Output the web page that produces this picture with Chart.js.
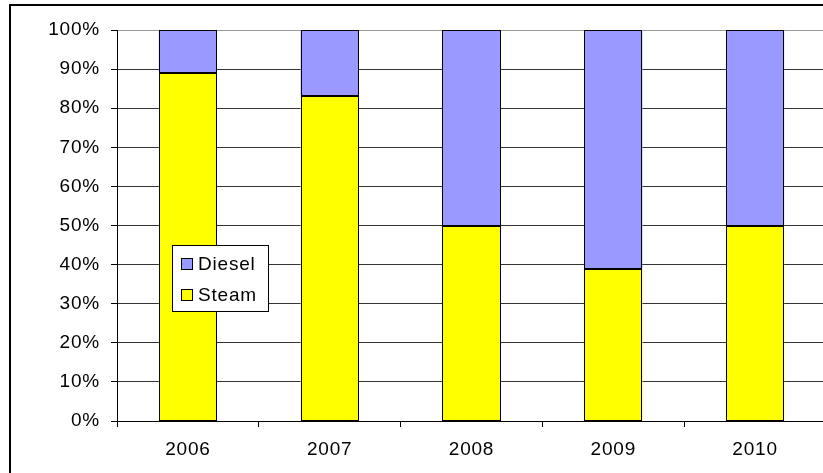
<!DOCTYPE html>
<html>
<head>
<meta charset="utf-8">
<script src="https://cdn.jsdelivr.net/npm/chart.js@4/dist/chart.umd.min.js"></script>
<style>
  html, body { margin: 0; padding: 0; background: #fff; overflow: hidden; }
  #wrap { position: absolute; left: 0; top: 0; width: 840px; height: 490px; }
</style>
</head>
<body>
<div id="wrap"><canvas id="c" width="840" height="490"></canvas></div>
<script>
// Locomotive fleet share by traction type, per year
const years = ['2006', '2007', '2008', '2009', '2010'];
const steamShare = [89, 83, 50, 39, 50];
const dieselShare = [11, 17, 50, 61, 50];
const seriesNames = ['Steam', 'Diesel'];
const seriesColors = ['#FFFF00', '#9999FF'];

const FONT = 'Liberation Sans, Arial, sans-serif';
const FONT_SIZE = 19;
const LETTER_SPACING = '0.8px';

function spacing(chart) {
  if ('letterSpacing' in chart.ctx) chart.ctx.letterSpacing = LETTER_SPACING;
}

// Slightly wider text throughout
const textSpacingPlugin = {
  id: 'textSpacing',
  beforeUpdate: spacing,
  beforeLayout: spacing,
  beforeDraw: spacing
};

// Frame around the whole chart
const framePlugin = {
  id: 'frame',
  beforeDraw(chart) {
    const ctx = chart.ctx;
    ctx.save();
    ctx.fillStyle = '#fff';
    ctx.fillRect(0, 0, chart.width, chart.height);
    ctx.strokeStyle = '#000';
    ctx.lineWidth = 2;
    ctx.strokeRect(10, 5, chart.width + 20, chart.height + 20);
    ctx.restore();
  }
};

// Crisp 1px outlines around every bar segment
const barOutlinePlugin = {
  id: 'barOutline',
  afterDatasetsDraw(chart) {
    const ctx = chart.ctx;
    ctx.save();
    ctx.strokeStyle = '#000';
    ctx.lineWidth = 1;
    chart.data.datasets.forEach((d, i) => {
      chart.getDatasetMeta(i).data.forEach((bar) => {
        const p = bar.getProps(['x', 'y', 'base', 'width'], true);
        const l = Math.round(p.x - p.width / 2);
        const r = Math.round(p.x + p.width / 2);
        const t = Math.round(Math.min(p.y, p.base));
        const b = Math.round(Math.max(p.y, p.base));
        ctx.strokeRect(l + 0.5, t + 0.5, r - l - 1, b - t - 1);
      });
    });
    ctx.restore();
  }
};

// Boxed legend inside the plot, last series listed first
const boxLegendPlugin = {
  id: 'boxLegend',
  afterDraw(chart) {
    const ctx = chart.ctx;
    const ds = chart.data.datasets.slice().reverse();
    const x = 172, y = 245, w = 96, h = 66;
    ctx.save();
    ctx.fillStyle = '#fff';
    ctx.fillRect(x, y, w, h);
    ctx.strokeStyle = '#000';
    ctx.lineWidth = 1;
    ctx.strokeRect(x + 0.5, y + 0.5, w, h);
    ctx.font = FONT_SIZE + 'px ' + FONT;
    ctx.textBaseline = 'middle';
    ds.forEach((d, i) => {
      const cy = y + 19 + i * 31;
      ctx.fillStyle = d.backgroundColor;
      ctx.fillRect(x + 9, cy - 6, 11, 11);
      ctx.strokeStyle = '#000';
      ctx.strokeRect(x + 9.5, cy - 5.5, 11, 11);
      ctx.fillStyle = '#000';
      ctx.fillText(d.label, x + 26, cy + 1);
    });
    ctx.restore();
  }
};

new Chart(document.getElementById('c'), {
  type: 'bar',
  data: {
    labels: years,
    datasets: [
      { label: seriesNames[0], data: steamShare, backgroundColor: seriesColors[0], borderWidth: 0 },
      { label: seriesNames[1], data: dieselShare, backgroundColor: seriesColors[1], borderWidth: 0 }
    ]
  },
  options: {
    responsive: false,
    animation: false,
    devicePixelRatio: 1,
    layout: { padding: { left: 0, top: 30, right: 14, bottom: 0 } },
    datasets: { bar: { categoryPercentage: 1, barPercentage: 0.41 } },
    plugins: {
      legend: { display: false },
      tooltip: { enabled: false }
    },
    scales: {
      x: {
        stacked: true,
        afterFit(s) { s.height = 69; },
        border: { color: '#000', width: 1 },
        grid: { offset: true, drawOnChartArea: false, drawTicks: true, tickLength: 6, color: '#000' },
        ticks: { color: '#000', padding: 11, font: { family: FONT, size: FONT_SIZE } }
      },
      y: {
        stacked: true,
        min: 0, max: 100,
        afterFit(s) { s.width = 117; },
        border: { color: '#000', width: 1 },
        grid: {
          color: (c) => (c.tick && c.tick.value === 100 ? '#9a9a9a' : '#333'),
          tickColor: '#000',
          tickLength: 6
        },
        ticks: {
          stepSize: 10, color: '#000', padding: 11,
          font: { family: FONT, size: FONT_SIZE },
          callback: (v) => v + '%'
        }
      }
    }
  },
  plugins: [textSpacingPlugin, framePlugin, barOutlinePlugin, boxLegendPlugin]
});
</script>
</body>
</html>
